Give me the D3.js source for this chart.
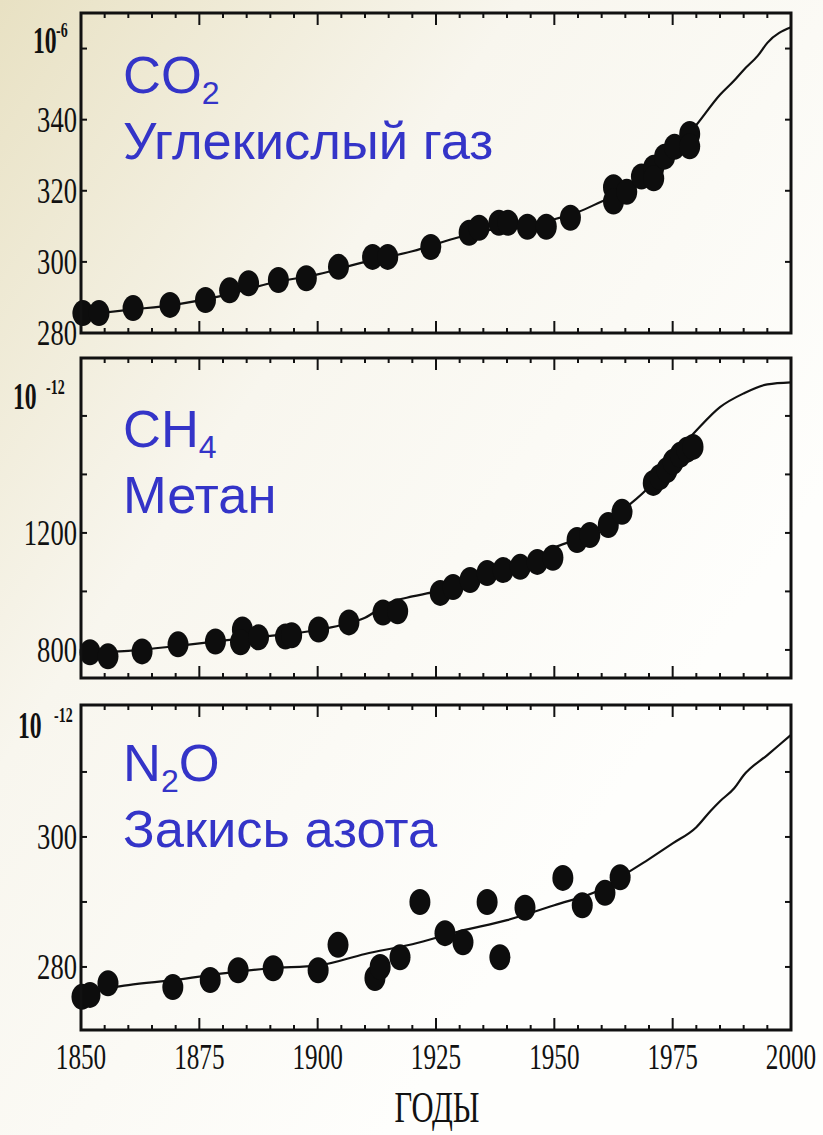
<!DOCTYPE html>
<html>
<head>
<meta charset="utf-8">
<script src="https://cdn.jsdelivr.net/npm/d3@7"></script>
<style>
body { margin: 0; }
svg { display: block; }
</style>
</head>
<body>
<script>

// ---------------------------------------------------------------------------
// Data

var years = [1850, 1875, 1900, 1925, 1950, 1975, 2000];

var co2Dots = [
    [1850.4, 285.6], [1853.8, 285.6], [1861, 287], [1868.8, 287.9], [1876.3, 289.3],
    [1881.4, 292], [1885.4, 294], [1891.7, 294.9], [1897.6, 295.4], [1904.4, 298.6],
    [1911.6, 301.4], [1914.8, 301.4], [1923.9, 304.2], [1932, 308.2], [1934.1, 309.6],
    [1938.3, 311], [1940.2, 311], [1944.3, 309.9], [1948.3, 309.9], [1953.4, 312.4],
    [1962.5, 321], [1962.5, 317], [1965.3, 319.7], [1968.4, 324], [1971, 326.5],
    [1971, 323.5], [1973.3, 329.6], [1975.4, 332.4], [1978.6, 336], [1978.6, 332.5]
];
var co2Curve = [
    [1850, 285], [1860, 286.5], [1870, 288], [1880, 290.5], [1890, 294], [1900, 296.5],
    [1910, 300], [1920, 303], [1930, 307], [1940, 310], [1950, 312], [1955, 314],
    [1960, 317], [1965, 320], [1970, 325], [1975, 331], [1980, 338.5], [1985, 347],
    [1988, 351], [1990, 354], [1993, 358], [1995, 361.6], [2000, 366]
];

var ch4Dots = [
    [1851.9, 792], [1855.7, 778], [1862.9, 795], [1870.5, 819], [1878.4, 829],
    [1884.1, 870], [1883.7, 826], [1887.5, 843], [1893.2, 846], [1894.5, 850],
    [1900.2, 870], [1906.6, 894], [1913.8, 928], [1916.9, 932],
    [1925.9, 995], [1928.6, 1015], [1932.2, 1039], [1935.8, 1063], [1939.2, 1073],
    [1942.8, 1084], [1946.4, 1101], [1949.7, 1115], [1954.8, 1176], [1957.5, 1193],
    [1961.4, 1227], [1964.3, 1272], [1970.9, 1371], [1972.3, 1391], [1973.8, 1415],
    [1975.1, 1443], [1976.6, 1467], [1978, 1484], [1979.3, 1494]
];
var ch4Curve = [
    [1850, 790], [1860, 797], [1870, 813], [1880, 832], [1890, 848], [1900, 868],
    [1905, 885], [1910, 910], [1915, 960], [1920, 983], [1925, 1000], [1930, 1030],
    [1935, 1055], [1940, 1080], [1945, 1110], [1950, 1150], [1955, 1180], [1960, 1220],
    [1965, 1285], [1970, 1357], [1975, 1460], [1980, 1550], [1985, 1630], [1990, 1677],
    [1995, 1708], [2000, 1715]
];

var n2oDots = [
    [1850.2, 275.4], [1851.9, 275.7], [1855.7, 277.5], [1869.4, 276.9], [1877.3, 278],
    [1883.2, 279.5], [1890.6, 279.8], [1900.1, 279.5], [1904.3, 283.4], [1912.1, 278.3],
    [1913.2, 280], [1917.4, 281.5], [1921.6, 290], [1926.9, 285.2], [1930.7, 283.8],
    [1935.8, 290], [1938.5, 281.5], [1943.8, 289.1], [1951.8, 293.7], [1955.9, 289.5],
    [1960.7, 291.4], [1963.9, 293.8]
];
var n2oCurve = [
    [1850, 276], [1860, 277.2], [1870, 278], [1880, 279], [1890, 279.8], [1900, 280.2],
    [1910, 282], [1920, 283.5], [1930, 285.5], [1940, 287.2], [1950, 289.5], [1960, 292],
    [1965, 294.3], [1970, 296.6], [1975, 299], [1980, 301.5], [1983, 304], [1985, 305.5],
    [1988, 307.5], [1990, 309.5], [1995, 312.6], [2000, 315.7]
];

var co2Ticks = [300, 320, 340, 360], co2Labels = [280, 300, 320, 340];
var ch4Ticks = [800, 1000, 1200, 1400, 1600], ch4Labels = [800, 1200];
var n2oTicks = [280, 290, 300, 310], n2oLabels = [280, 300];

// ---------------------------------------------------------------------------

var width = 823, height = 1135;
var left = 81, right = 791;
var blue = "#3434c8";
var serif = "'Liberation Serif', 'DejaVu Serif', serif";
var sans = "'Liberation Sans', Arial, sans-serif";

var svg = d3.select("body").append("svg")
    .attr("width", width)
    .attr("height", height);

var grad = svg.append("defs").append("linearGradient")
    .attr("id", "bg")
    .attr("x1", 0).attr("y1", 0).attr("x2", 0.75).attr("y2", 0.7);
grad.append("stop").attr("offset", 0).attr("stop-color", "#e8e1c3");
grad.append("stop").attr("offset", 0.45).attr("stop-color", "#f8f6ee");
grad.append("stop").attr("offset", 1).attr("stop-color", "#fefefc");

svg.append("rect")
    .attr("width", width)
    .attr("height", height)
    .attr("fill", "url(#bg)");

var x = d3.scaleLinear().domain([1850, 2000]).range([left, right]);

function squashText(g, px, py, sx, txt, size, anchor, weight) {
    return g.append("text")
        .attr("transform", "translate(" + px + "," + py + ") scale(" + sx + ",1)")
        .attr("text-anchor", anchor)
        .attr("font-family", serif)
        .attr("font-size", size)
        .attr("font-weight", weight || "normal")
        .attr("fill", "#111")
        .text(txt);
}

function drawPanel(p) {
    var g = svg.append("g");
    var y = d3.scaleLinear().domain(p.domain).range([p.bottom, p.top]);

    // x ticks, top and bottom
    var minor = d3.range(1855, 2000, 5);
    minor.forEach(function(yr) {
        var len = (yr - 1850) % 25 === 0 ? 12 : 5;
        g.append("line")
            .attr("x1", x(yr)).attr("x2", x(yr))
            .attr("y1", p.bottom).attr("y2", p.bottom - len)
            .attr("stroke", "#111").attr("stroke-width", 2);
        g.append("line")
            .attr("x1", x(yr)).attr("x2", x(yr))
            .attr("y1", p.top).attr("y2", p.top + len)
            .attr("stroke", "#111").attr("stroke-width", 2);
    });

    // y ticks, left and right
    p.ticks.forEach(function(v) {
        g.append("line")
            .attr("x1", left).attr("x2", left + 6)
            .attr("y1", y(v)).attr("y2", y(v))
            .attr("stroke", "#111").attr("stroke-width", 2);
        g.append("line")
            .attr("x1", right).attr("x2", right - 6)
            .attr("y1", y(v)).attr("y2", y(v))
            .attr("stroke", "#111").attr("stroke-width", 2);
    });

    p.labels.forEach(function(v) {
        squashText(g, 77, y(v) + 12, 0.76, v, 35, "end");
    });

    // unit
    squashText(g, p.unit[0], p.unit[1], 0.64, "10", 37, "start", "bold");
    squashText(g, p.unit[2], p.unit[3], 0.7, p.unitExp, 20, "start", "bold");

    // curve
    var line = d3.line()
        .x(function(d) { return x(d[0]); })
        .y(function(d) { return y(d[1]); })
        .curve(d3.curveMonotoneX);

    g.append("path")
        .attr("d", line(p.curve))
        .attr("fill", "none")
        .attr("stroke", "#111")
        .attr("stroke-width", 2.2);

    g.selectAll("ellipse.dot")
        .data(p.dots)
        .enter()
        .append("ellipse")
        .attr("class", "dot")
        .attr("cx", function(d) { return x(d[0]); })
        .attr("cy", function(d) { return y(d[1]); })
        .attr("rx", 10.5)
        .attr("ry", 13)
        .attr("fill", "#0d0d0d");

    // frame
    g.append("rect")
        .attr("x", left).attr("y", p.top)
        .attr("width", right - left).attr("height", p.bottom - p.top)
        .attr("fill", "none")
        .attr("stroke", "#111")
        .attr("stroke-width", 3);

    // blue captions
    var t1 = g.append("text")
        .attr("x", 123).attr("y", p.capY)
        .attr("font-family", sans)
        .attr("font-size", 52.5)
        .attr("fill", blue);
    p.formula.forEach(function(part) {
        t1.append("tspan")
            .attr("font-size", part.sub ? 32 : 52.5)
            .attr("dy", part.dy)
            .text(part.t);
    });
    g.append("text")
        .attr("x", 123).attr("y", p.capY + 66)
        .attr("font-family", sans)
        .attr("font-size", 52.5)
        .attr("fill", blue)
        .text(p.name);

    return g;
}

drawPanel({
    top: 13, bottom: 333, domain: [280, 370],
    ticks: co2Ticks, labels: co2Labels,
    dots: co2Dots, curve: co2Curve,
    unit: [33, 53, 56, 37], unitExp: "-6",
    capY: 93,
    formula: [{t: "CO", dy: 0}, {t: "2", sub: true, dy: 11}],
    name: "Углекислый газ"
});

drawPanel({
    top: 358, bottom: 678, domain: [704, 1798],
    ticks: ch4Ticks, labels: ch4Labels,
    dots: ch4Dots, curve: ch4Curve,
    unit: [13, 409, 46, 394], unitExp: "-12",
    capY: 447,
    formula: [{t: "CH", dy: 0}, {t: "4", sub: true, dy: 11}],
    name: "Метан"
});

drawPanel({
    top: 705, bottom: 1030, domain: [270.3, 320.3],
    ticks: n2oTicks, labels: n2oLabels,
    dots: n2oDots, curve: n2oCurve,
    unit: [18, 738, 54, 722], unitExp: "-12",
    capY: 781,
    formula: [{t: "N", dy: 0}, {t: "2", sub: true, dy: 11}, {t: "O", dy: -11}],
    name: "Закись азота"
});

// x axis labels under the last panel
years.forEach(function(yr) {
    squashText(svg, x(yr), 1069, 0.7, yr, 36, "middle");
});
squashText(svg, 437, 1122, 0.68, "ГОДЫ", 45, "middle");

</script>
</body>
</html>
